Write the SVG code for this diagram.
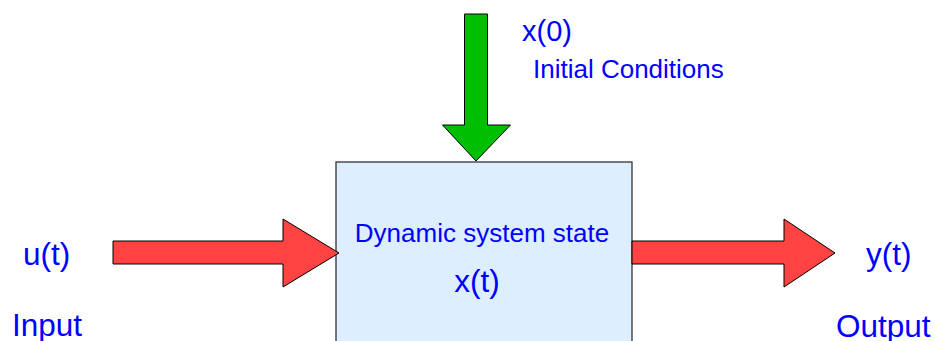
<svg xmlns="http://www.w3.org/2000/svg" width="935" height="341" viewBox="0 0 935 341">
  <style>
    .lbl { font-family: "Liberation Sans", Arial, sans-serif; fill: #0000ff; }
    .big { font-size: 31.5px; }
    .mid { font-size: 26px; }
    .red { fill: #ff4242; stroke: #000; stroke-width: 1; stroke-linejoin: miter; }
    .green { fill: #00bf00; stroke: #000; stroke-width: 1; }
    .box { fill: #ddeeff; stroke: #333; stroke-width: 1.3; }
  </style>
  <rect width="935" height="341" fill="#fff"/>

  <!-- system block -->
  <g id="system">
    <rect class="box" x="336" y="162" width="296" height="190"/>
    <text class="lbl mid" x="482" y="242" text-anchor="middle">Dynamic system state</text>
    <text class="lbl big" x="477" y="292" text-anchor="middle">x(t)</text>
  </g>

  <g id="input">
    <text class="lbl big" x="23" y="265">u(t)</text>
    <text class="lbl big" x="12" y="336">Input</text>
  </g>

  <g id="output">
    <text class="lbl big" x="866" y="265">y(t)</text>
    <text class="lbl big" x="836" y="337">Output</text>
  </g>

  <g id="initial">
    <text class="lbl big" x="522" y="41" style="font-size:29px">x(0)</text>
    <text class="lbl mid" x="533" y="78">Initial Conditions</text>
  </g>

  <!-- block arrows -->
  <g id="connectors">
    <polygon class="green" points="464.5,14 487.5,14 487.5,125 510.5,125 476,161 442.5,125 464.5,125"/>
    <polygon class="red" points="113,241 283,241 283,219 339,253 283,287 283,264 113,264"/>
    <polygon class="red" points="632,241 784,241 784,219 835,253 784,287 784,264 632,264"/>
  </g>
</svg>
